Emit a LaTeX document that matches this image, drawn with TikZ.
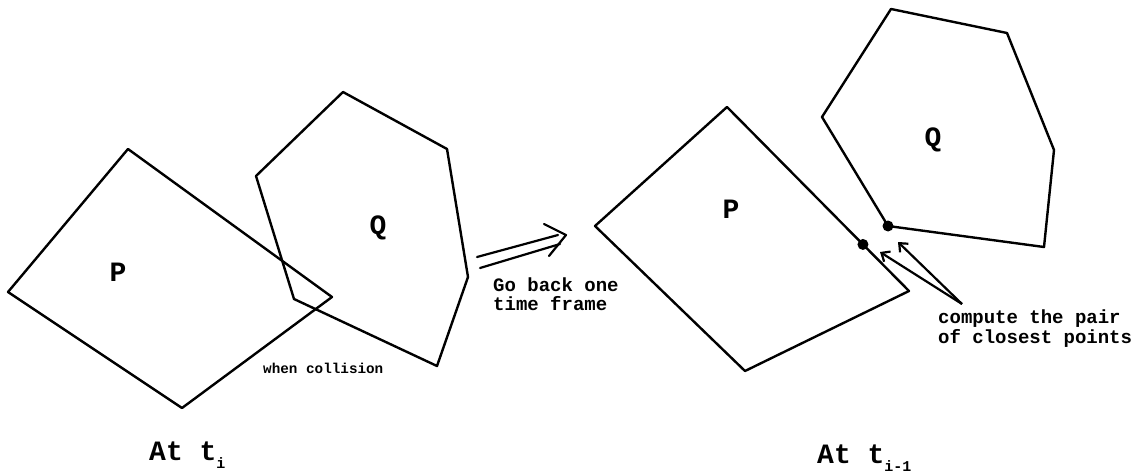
\documentclass[tikz,border=0pt]{standalone}
\usepackage{fontspec}
\setmonofont{Liberation Mono}
\usetikzlibrary{arrows.meta,calc}
\tikzset{
  poly/.style={draw=black, line width=2.4pt, line join=round},
  biglabel/.style={font=\ttfamily\bfseries\fontsize{28}{28}\selectfont, inner sep=0pt},
  note/.style={font=\ttfamily\bfseries\fontsize{19}{20}\selectfont, inner sep=0pt, anchor=base west},
  smallnote/.style={font=\ttfamily\bfseries\fontsize{14.3}{15}\selectfont, inner sep=0pt, anchor=base west},
  pointer/.style={draw=black, line width=2.2pt, -{Straight Barb[length=7pt,width=12pt]}},
  dotmark/.style={circle, fill=black, inner sep=0pt, minimum size=11pt},
  shaft/.style={draw=black, line width=2.2pt, line cap=round, line join=round},
}
\newcommand{\subtxt}[1]{\raisebox{-8pt}{\fontsize{15}{15}\selectfont #1}}
\begin{document}
\begin{tikzpicture}[x=1pt, y=-1pt]
\useasboundingbox (0,0) rectangle (1137,476);
% left scene
\draw[poly] (128,149) -- (332,297) -- (182,408) -- (8,292) -- cycle;
\draw[poly] (343,92) -- (447,149) -- (468,277) -- (437,366) -- (294,299) -- (256,176) -- cycle;
\node[biglabel] (lp) at (118,272) {P};
\node[biglabel] (lq) at (378,228) {Q};
\node[smallnote] (coll) at (263,373) {when collision};
\node[biglabel, anchor=base west] (lat) at (149,460) {At t\subtxt{i}};
% transition arrow (double shaft with open chevron head)
\coordinate (u1) at (477,257);
\coordinate (u2) at (558,235);
\coordinate (l1) at (480,268);
\coordinate (l2) at (560,244);
\coordinate (tip) at (566,235);
\coordinate (b1) at (544,224);
\coordinate (b2) at (549,256);
\draw[shaft] (u1) -- (u2);
\draw[shaft] (l1) -- (l2);
\draw[shaft] (b1) -- (tip) -- (b2);
\node[note] (go1) at (493,291) {Go back one};
\node[note] (go2) at (493,310) {time frame};
% right scene
\coordinate (rp1) at (727,107);
\coordinate (rp2) at (909,291);
\draw[poly] (rp1) -- (rp2) -- (745,371) -- (595,226) -- cycle;
\draw[poly] (891,9) -- (1007,33) -- (1054,150) -- (1044,247) -- (888,226) -- (822,117) -- cycle;
\node[biglabel] (rpl) at (731,209) {P};
\node[biglabel] (rql) at (933,140) {Q};
\node[dotmark] (dp) at ($(rp1)!0.747!(rp2)$) {};
\node[dotmark] (dq) at (888,226) {};
\coordinate (src) at (962,304);
\coordinate (tp) at (880,252);
\coordinate (tq) at (898,242);
\draw[pointer] (src) -- (tp);
\draw[pointer] (src) -- (tq);
\node[note] (cp1) at (938,323) {compute the pair};
\node[note] (cp2) at (938,343) {of closest points};
\node[biglabel, anchor=base west] (rat) at (817,463) {At t\subtxt{i-1}};
\end{tikzpicture}
\end{document}
